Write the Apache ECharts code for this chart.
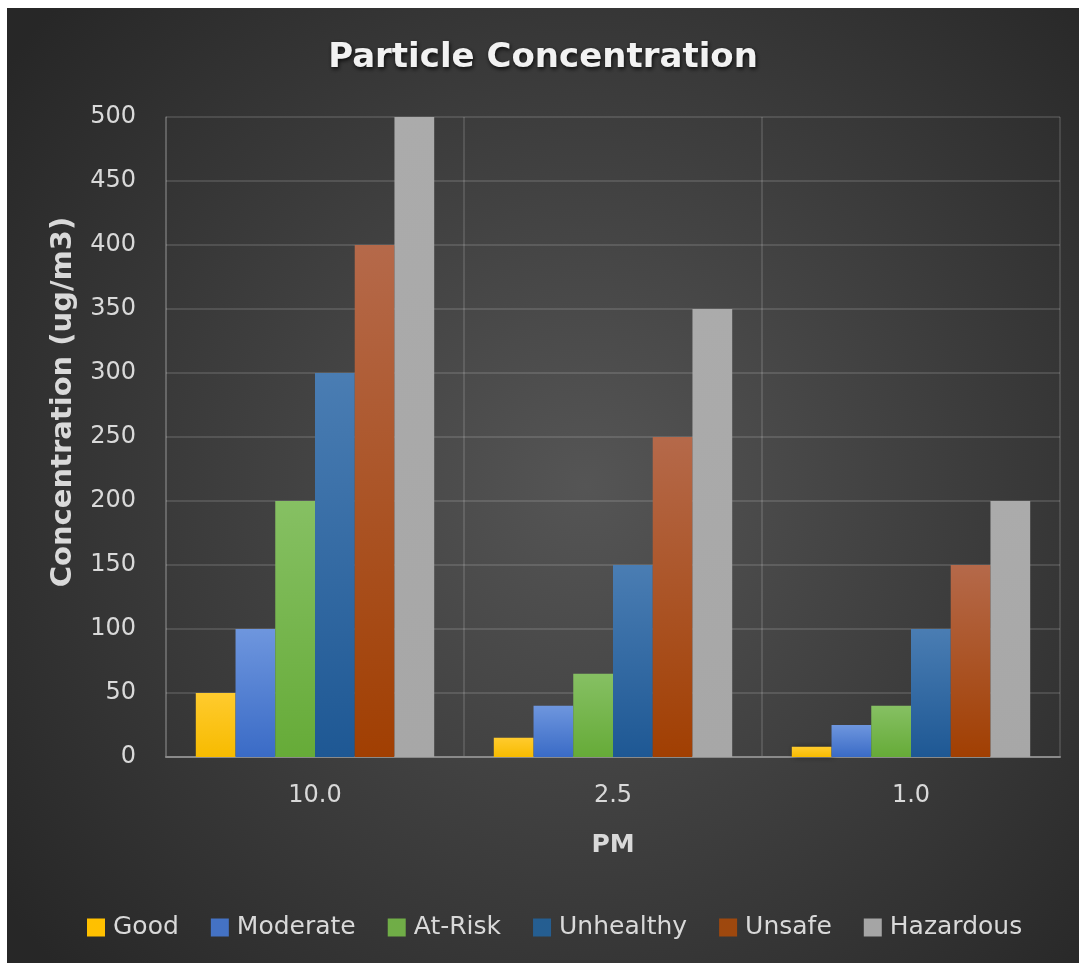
<!DOCTYPE html>
<html>
<head>
<meta charset="utf-8">
<script src="https://cdn.jsdelivr.net/npm/echarts@6/dist/echarts.min.js"></script>
<style>
html,body{margin:0;padding:0;background:#ffffff;width:1079px;height:963px;overflow:hidden;}
#chart{position:absolute;left:7px;top:8px;width:1072px;height:955px;}
</style>
</head>
<body>
<div id="chart"></div>
<script>
var categories = ['10.0', '2.5', '1.0'];
var seriesNames = ['Good', 'Moderate', 'At-Risk', 'Unhealthy', 'Unsafe', 'Hazardous'];
var good = [50, 15, 8];
var moderate = [100, 40, 25];
var atRisk = [200, 65, 40];
var unhealthy = [300, 150, 100];
var unsafe = [400, 250, 150];
var hazardous = [500, 350, 200];
var yTicks = [0, 50, 100, 150, 200, 250, 300, 350, 400, 450, 500];

var values = [good, moderate, atRisk, unhealthy, unsafe, hazardous];
var topColors = ['#ffcb2e', '#6e96de', '#86c063', '#4a7db3', '#b5694a', '#ababab'];
var bottomColors = ['#f7bb00', '#3a6bc6', '#66ab38', '#1e5894', '#a13f02', '#a7a7a7'];
var legendColors = ['#ffc000', '#4472c4', '#70ad47', '#255e91', '#9e480e', '#a5a5a5'];

var FONT = 'DejaVu Sans';
var chart = echarts.init(document.getElementById('chart'));
var series = seriesNames.map(function (n, i) {
  return {
    name: n,
    type: 'bar',
    data: values[i],
    barGap: '0%',
    barCategoryGap: '20%',
    itemStyle: {
      color: new echarts.graphic.LinearGradient(0, 0, 0, 1, [
        {offset: 0, color: topColors[i]},
        {offset: 1, color: bottomColors[i]}
      ]),
      shadowColor: 'rgba(0,0,0,0.45)',
      shadowBlur: 6,
      shadowOffsetX: 2,
      shadowOffsetY: 0
    }
  };
});

chart.setOption({
  backgroundColor: new echarts.graphic.RadialGradient(0.54, 0.5, 0.75, [
    {offset: 0, color: '#555555'},
    {offset: 1, color: '#272727'}
  ]),
  color: legendColors,
  title: {
    text: 'Particle Concentration',
    left: 'center',
    top: 28,
    textStyle: {
      color: '#f2f2f2',
      fontFamily: FONT,
      fontWeight: 'bold',
      fontSize: 34,
      textShadowColor: 'rgba(0,0,0,0.8)',
      textShadowBlur: 4,
      textShadowOffsetX: 1,
      textShadowOffsetY: 2
    }
  },
  legend: {
    bottom: 18,
    left: 75,
    itemWidth: 18,
    itemHeight: 18,
    itemGap: 32,
    icon: 'rect',
    data: seriesNames.map(function (n, i) { return {name: n, itemStyle: {color: legendColors[i]}}; }),
    textStyle: {color: '#d9d9d9', fontFamily: FONT, fontSize: 25, padding: [0, 0, 0, 3]}
  },
  grid: {left: 159, right: 19, top: 109, bottom: 206, containLabel: false, outerBoundsMode: 'none'},
  xAxis: {
    type: 'category',
    data: categories,
    name: 'PM',
    nameLocation: 'middle',
    nameGap: 76,
    nameTextStyle: {color: '#d9d9d9', fontFamily: FONT, fontWeight: 'bold', fontSize: 25},
    axisLine: {show: true, lineStyle: {color: '#8a8a8a', width: 2}},
    axisTick: {show: false},
    axisLabel: {color: '#d9d9d9', fontFamily: FONT, fontSize: 24, margin: 27},
    splitLine: {show: true, lineStyle: {color: 'rgba(255,255,255,0.17)', width: 1.5}}
  },
  yAxis: {
    type: 'value',
    min: 0,
    max: 500,
    interval: 50,
    name: 'Concentration (ug/m3)',
    nameLocation: 'middle',
    nameGap: 88,
    nameTextStyle: {color: '#d9d9d9', fontFamily: FONT, fontWeight: 'bold', fontSize: 29, padding: [0, 0, 0, 70]},
    axisLine: {show: true, lineStyle: {color: 'rgba(255,255,255,0.17)', width: 1.5}},
    axisTick: {show: false},
    axisLabel: {
      color: '#d9d9d9', fontFamily: FONT, fontSize: 24, margin: 30,
      formatter: function (v) { return yTicks.indexOf(v) >= 0 ? String(v) : ''; }
    },
    splitLine: {show: true, lineStyle: {color: 'rgba(255,255,255,0.17)', width: 1.5}}
  },
  series: series
});
</script>
</body>
</html>
